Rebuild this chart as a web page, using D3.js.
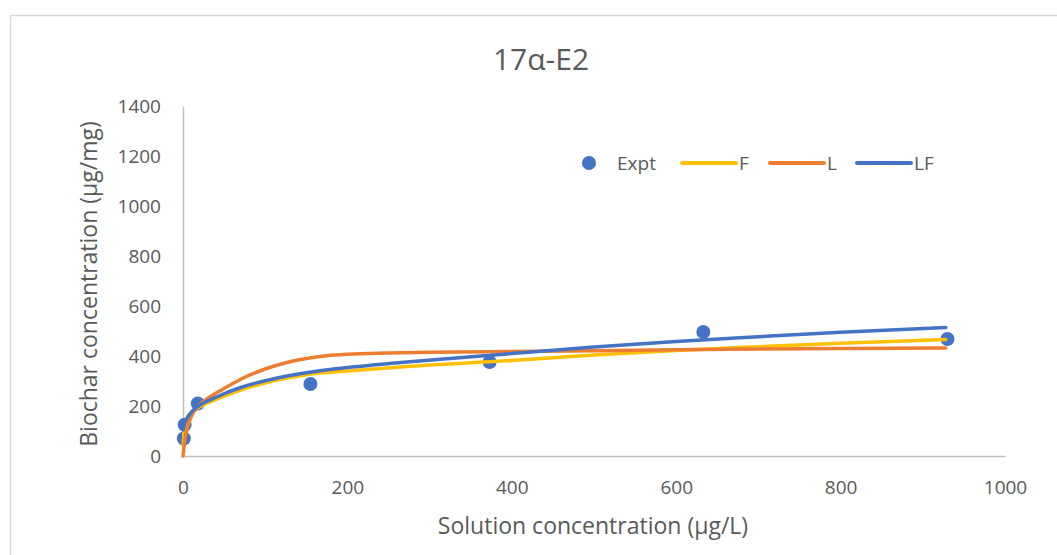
<!DOCTYPE html>
<html>
<head>
<meta charset="utf-8">
<script src="https://cdn.jsdelivr.net/npm/d3@7"></script>
<style>
  body { margin: 0; background: #fff; }
  text { font-family: "Open Sans", sans-serif; fill: #595959; }
</style>
</head>
<body>
<div id="chartDiv"></div>
<script>
var width = 1057;
var height = 555;

// experimental points (solution conc, biochar conc)
var exptX = [1, 2, 18, 155, 373, 633, 930];
var exptY = [70, 125, 210, 288, 376, 496, 468];

// model curves
var fX = [0.3, 1, 2, 5, 10, 18, 40, 72, 112, 152, 200, 265, 400, 500, 600, 700, 800, 928];
var fY = [40, 90, 115, 150, 170, 192, 226, 266, 302, 326, 340, 356, 382, 404, 422, 437, 451, 466];

var lX = [0, 3, 6, 10, 18, 30, 50, 72, 100, 125, 150, 175, 200, 250, 300, 400, 500, 600, 700, 800, 928];
var lY = [0, 80, 120, 158, 198, 230, 270, 310, 348, 373, 390, 401, 407, 412, 415, 418, 421, 425, 428, 430, 432];

var lfX = [0, 2, 10, 18, 40, 72, 112, 152, 200, 265, 400, 500, 600, 700, 800, 928];
var lfY = [105, 130, 175, 198, 235, 276, 310, 334, 354, 374, 410, 436, 458, 477, 495, 514];

var xTicks = [0, 200, 400, 600, 800, 1000];
var yTicks = [0, 200, 400, 600, 800, 1000, 1200, 1400];

var cBlue = "#4472C4", cOrange = "#ED7D31", cYellow = "#FFC000";

var margin = {left: 183, right: 52, top: 106, bottom: 99};

var svg = d3.select("#chartDiv")
    .append("svg")
    .attr("width", width)
    .attr("height", height);

// chart frame
svg.append("rect")
    .attr("x", 10.5).attr("y", 15.5)
    .attr("width", 1100).attr("height", 600)
    .attr("fill", "#fff")
    .attr("stroke", "#d9d9d9")
    .attr("stroke-width", 1.5);

var x = d3.scaleLinear().domain([0, 1000]).range([margin.left, width - margin.right]);
var y = d3.scaleLinear().domain([0, 1400]).range([height - margin.bottom, margin.top]);

// axes
var xAxis = svg.append("g")
    .attr("transform", `translate(0,${y(0)})`)
    .call(d3.axisBottom(x).tickValues(xTicks).tickFormat(d3.format("d")).tickSize(0).tickPadding(25));
var yAxis = svg.append("g")
    .attr("transform", `translate(${x(0)},0)`)
    .call(d3.axisLeft(y).tickValues(yTicks).tickFormat(d3.format("d")).tickSize(0).tickPadding(22));

[xAxis, yAxis].forEach(a => {
    a.select(".domain").attr("stroke", "#bfbfbf").attr("stroke-width", 1.5);
    a.selectAll("text")
        .style("font-family", "'Open Sans', sans-serif")
        .style("font-size", "19px")
        .attr("fill", "#595959");
});

// points first, then lines
svg.append("g")
    .selectAll("circle")
    .data(exptX.map((v, i) => [v, exptY[i]]))
    .join("circle")
        .attr("cx", d => x(d[0]))
        .attr("cy", d => y(d[1]))
        .attr("r", 7)
        .attr("fill", cBlue);

var line = d3.line()
    .x(d => x(d[0]))
    .y(d => y(d[1]))
    .curve(d3.curveMonotoneX);

var series = [
    {name: "F", xs: fX, ys: fY, color: cYellow},
    {name: "L", xs: lX, ys: lY, color: cOrange},
    {name: "LF", xs: lfX, ys: lfY, color: cBlue}
];

series.forEach(s => {
    svg.append("path")
        .datum(s.xs.map((v, i) => [v, s.ys[i]]))
        .attr("fill", "none")
        .attr("stroke", s.color)
        .attr("stroke-width", 3.5)
        .attr("stroke-linecap", "round")
        .attr("stroke-linejoin", "round")
        .attr("d", line);
});

// title
svg.append("text")
    .attr("x", 541).attr("y", 70)
    .attr("text-anchor", "middle")
    .style("font-size", "30px")
    .text("17α-E2");

// axis titles
svg.append("text")
    .attr("x", 593).attr("y", 534)
    .attr("text-anchor", "middle")
    .style("font-size", "23px")
    .text("Solution concentration (μg/L)");

svg.append("text")
    .attr("transform", `translate(97,${y(700) + 3}) rotate(-90)`)
    .attr("text-anchor", "middle")
    .style("font-size", "23px")
    .text("Biochar concentration (μg/mg)");

// legend
var leg = svg.append("g").attr("transform", "translate(0,163)");
leg.append("circle").attr("cx", 589).attr("cy", 0).attr("r", 7).attr("fill", cBlue);
leg.append("text").attr("x", 617).attr("y", 7).style("font-size", "19px").text("Expt");

var legItems = [
    {name: "F", color: cYellow, x0: 682},
    {name: "L", color: cOrange, x0: 770},
    {name: "LF", color: cBlue, x0: 857}
];
legItems.forEach(it => {
    leg.append("line")
        .attr("x1", it.x0).attr("x2", it.x0 + 54)
        .attr("y1", 0).attr("y2", 0)
        .attr("stroke", it.color)
        .attr("stroke-width", 4)
        .attr("stroke-linecap", "round");
    leg.append("text")
        .attr("x", it.x0 + 57).attr("y", 7)
        .style("font-size", "19px")
        .text(it.name);
});
</script>
</body>
</html>
